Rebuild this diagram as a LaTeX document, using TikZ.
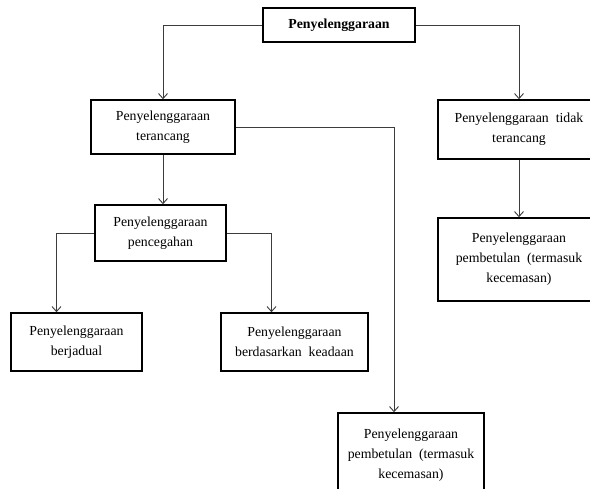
\documentclass[tikz,border=0pt]{standalone}
\usepackage{fontspec}
\setmainfont{Liberation Serif}
\usepackage{tikz}
\usetikzlibrary{arrows.meta, positioning, calc}
\definecolor{linegrey}{RGB}{60, 60, 60}

\begin{document}
\begin{tikzpicture}[x=1pt, y=-1pt,
    box/.style={draw=black, line width=1.6pt, align=center, inner sep=0pt,
        font=\fontsize{13.8}{20}\selectfont},
    conn/.style={draw=linegrey, line width=0.9pt, -{Straight Barb[length=5pt, width=9pt]}}]
    \useasboundingbox[fill=white] (0, 0) rectangle (590, 489);

    % top level
    \node[box, minimum width=152pt, minimum height=34pt, font=\fontsize{13.8}{20}\selectfont\bfseries]
        (root) at (339, 25) {Penyelenggaraan};

    % second level
    \node[box, minimum width=144pt, minimum height=54pt] (terancang) at (163, 127)
        {Penyelenggaraan\\terancang};
    \node[box, minimum width=162pt, minimum height=59pt] (tidak) at (519, 129.5)
        {Penyelenggaraan~~tidak\\terancang};

    % under terancang
    \node[box, minimum width=131pt, minimum height=56pt] (cegah) at (160.5, 233)
        {Penyelenggaraan\\pencegahan};
    \node[box, minimum width=131pt, minimum height=58pt] (jadual) at (76.5, 342)
        {Penyelenggaraan\\berjadual};
    \node[box, minimum width=147pt, minimum height=58pt] (keadaan) at (294.5, 342)
        {Penyelenggaraan\\berdasarkan~~keadaan};
    \node[box, minimum width=146pt, minimum height=84pt] (betulB) at (411, 455)
        {Penyelenggaraan\\pembetulan~~(termasuk\\kecemasan)};

    % under tidak terancang
    \node[box, minimum width=162pt, minimum height=83pt] (betulR) at (519, 259.5)
        {Penyelenggaraan\\pembetulan~~(termasuk\\kecemasan)};

    % connectors
    \draw[conn] (root.west) -| (terancang.north);
    \draw[conn] (root.east) -| (tidak.north);
    \draw[conn] (terancang.south) -- (terancang.south |- cegah.north);
    \draw[conn] (terancang.east) -| ([xshift=-17pt]betulB.north);
    \draw[conn] (tidak.south) -- (betulR.north);
    \draw[conn] (cegah.west) -| ([xshift=-20pt]jadual.north);
    \draw[conn] (cegah.east) -| ([xshift=-23pt]keadaan.north);
\end{tikzpicture}
\end{document}
